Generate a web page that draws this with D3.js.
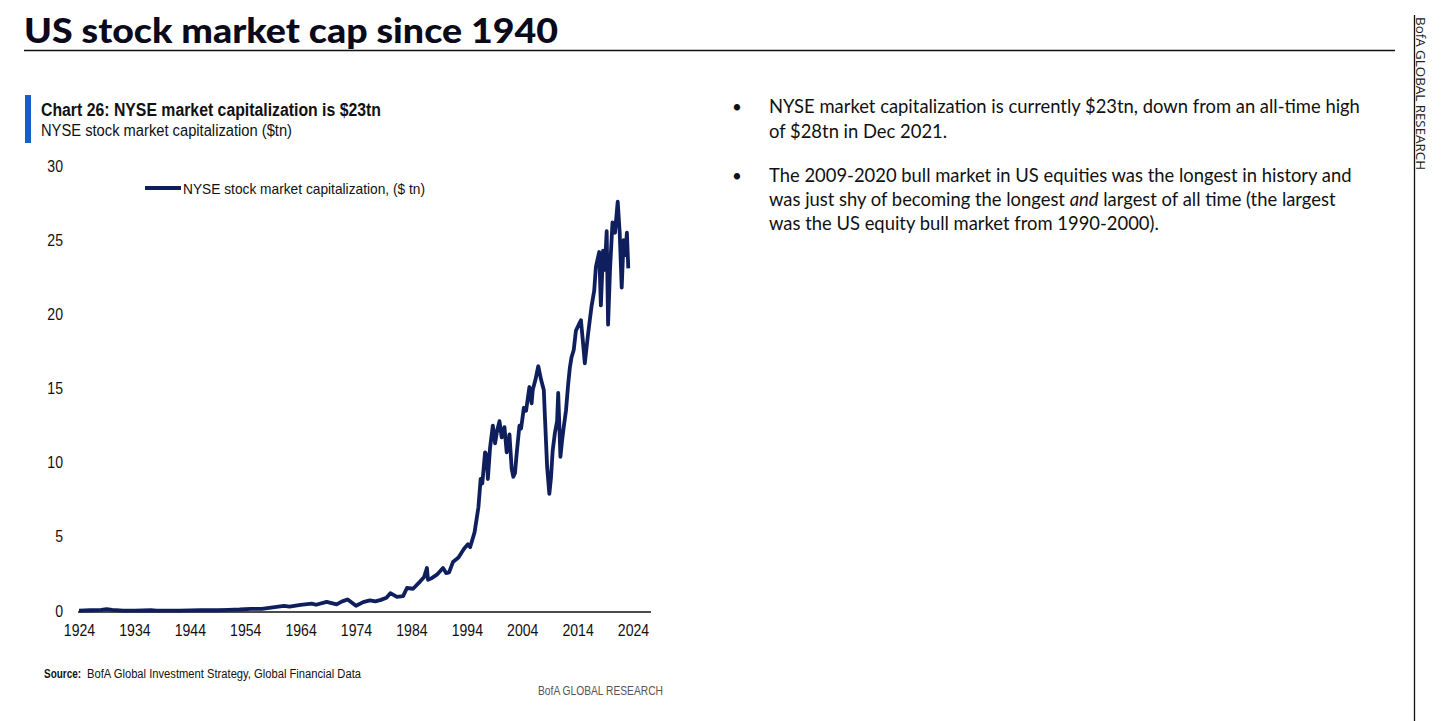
<!DOCTYPE html>
<html><head><meta charset="utf-8">
<script src="https://cdn.jsdelivr.net/npm/d3@7"></script>
<style>
body{margin:0;background:#fff;}
svg{display:block;}
</style></head>
<body>
<svg id="c" width="1456" height="721"></svg>
<script>
// ---- data ----
const years = [1924,1926,1928,1929,1930,1932,1934,1937,1938,1942,1946,1949,1951,1953,1955,1957,1959,1961,1962,1964,1966,1966.8,1968.7,1970.5,1971.5,1972.5,1974,1975.3,1976.5,1977.5,1978.5,1979.5,1980.2,1981.4,1982.5,1983.2,1984.3,1985.6,1986.3,1986.8,1987.0,1987.6,1988.6,1989.7,1990.3,1990.8,1991.5,1992.5,1993.5,1994.2,1994.6,1995.4,1996.1,1996.5,1996.8,1997.3,1997.6,1997.8,1998.2,1998.7,1999.1,1999.5,1999.9,2000.3,2000.8,2001.2,2001.7,2002.1,2002.4,2002.7,2003.0,2003.5,2003.8,2004.3,2004.7,2005.3,2005.7,2005.9,2006.4,2006.9,2007.4,2007.9,2008.1,2008.5,2008.9,2009.2,2009.5,2009.9,2010.3,2010.5,2010.9,2011.2,2011.5,2011.9,2012.3,2012.6,2012.9,2013.3,2013.7,2014.2,2014.6,2015.0,2015.3,2015.9,2016.5,2017.0,2017.3,2017.9,2018.2,2018.6,2018.9,2019.25,2019.5,2019.85,2020.3,2020.75,2021.24,2021.6,2021.96,2022.3,2022.6,2022.9,2023.15];
const marketCap = [0.03,0.05,0.08,0.12,0.08,0.02,0.03,0.05,0.03,0.03,0.06,0.05,0.08,0.1,0.15,0.15,0.25,0.35,0.3,0.42,0.5,0.42,0.62,0.45,0.65,0.78,0.35,0.6,0.72,0.65,0.75,0.9,1.2,0.95,1.0,1.55,1.5,2.0,2.3,2.9,2.1,2.2,2.45,2.9,2.55,2.6,3.3,3.6,4.2,4.5,4.3,5.3,7.0,8.9,8.6,10.7,10.5,8.9,11.0,12.5,11.3,12.2,12.8,11.7,12.4,10.7,11.9,9.6,9.05,9.3,10.6,12.5,12.3,13.7,13.5,15.1,14.0,14.9,15.6,16.5,15.6,14.9,13.1,9.7,7.9,9.0,10.8,12.0,12.8,14.7,10.4,11.5,12.4,13.5,15.3,16.4,17.1,17.6,18.9,19.3,19.6,18.0,16.7,18.7,20.5,21.6,23.2,24.2,20.6,24.3,23.0,25.6,19.3,23.0,26.2,25.5,27.6,25.5,21.8,25.0,24.0,25.5,23.1];
const xTicks = [1924,1934,1944,1954,1964,1974,1984,1994,2004,2014,2024];
const yTicks = [0,5,10,15,20,25,30];
const seriesName = "NYSE stock market capitalization, ($ tn)";

const svg = d3.select("#c");
const narrow = "'Liberation Sans',Arial,sans-serif";
const body = "Lato,'Open Sans',sans-serif";

function fit(sel, len){ return sel.attr("textLength",len).attr("lengthAdjust","spacingAndGlyphs"); }

// Title
fit(svg.append("text").attr("x",24).attr("y",43).attr("font-family",body).attr("font-weight",900)
  .attr("font-size",35).attr("fill","#0a0a1a").text("US stock market cap since 1940"), 534);
svg.append("line").attr("x1",24).attr("x2",1395).attr("y1",50.5).attr("y2",50.5).attr("stroke","#111").attr("stroke-width",1.6);

// Right vertical rule and text
svg.append("line").attr("x1",1414.5).attr("x2",1414.5).attr("y1",15).attr("y2",721).attr("stroke","#111").attr("stroke-width",1.3);
fit(svg.append("text").attr("transform","translate(1416,17) rotate(90)").attr("font-family","'Open Sans',sans-serif")
  .attr("font-size",12).attr("fill","#222").text("BofA GLOBAL RESEARCH"), 153);

// Chart header
svg.append("rect").attr("x",25).attr("y",95).attr("width",6).attr("height",48).attr("fill","#1560c8");
fit(svg.append("text").attr("x",41).attr("y",116).attr("font-family",narrow).attr("font-weight",700)
  .attr("font-size",18).attr("fill","#111").text("Chart 26: NYSE market capitalization is $23tn"), 340);
fit(svg.append("text").attr("x",41).attr("y",136).attr("font-family",narrow)
  .attr("font-size",16).attr("fill","#111").text("NYSE stock market capitalization ($tn)"), 251);

// Scales
const x = d3.scaleLinear().domain([1924,2024]).range([79,633]);
const y = d3.scaleLinear().domain([0,30]).range([611,166]);

// Y axis labels
const ya = svg.append("g").attr("transform","translate(63,0)")
  .call(d3.axisLeft(y).tickValues(yTicks).tickSize(0).tickPadding(0).tickFormat(d3.format("d")));
ya.select(".domain").remove();
ya.selectAll("text").attr("font-family",narrow).attr("font-size",16).attr("fill","#111").attr("transform","scale(0.88,1)");

// X axis
const xa = svg.append("g").attr("transform","translate(0,612)")
  .call(d3.axisBottom(x).tickValues(xTicks).tickSize(0).tickPadding(13).tickFormat(d3.format("d")));
xa.select(".domain").remove();
xa.selectAll("text").attr("font-family",narrow).attr("font-size",16).attr("fill","#111").attr("transform","scale(0.88,1)");
svg.append("line").attr("x1",78).attr("x2",651).attr("y1",y(0)+1).attr("y2",y(0)+1).attr("stroke","#111").attr("stroke-width",1.5);

// Line
const data = years.map((yr,i)=>({yr, v: marketCap[i]}));
svg.append("path").datum(data)
  .attr("d", d3.line().x(d=>x(d.yr)).y(d=>y(d.v)))
  .attr("fill","none").attr("stroke","#0f1f5e").attr("stroke-width",3.8).attr("stroke-linejoin","round");

// Legend
svg.append("line").attr("x1",145).attr("x2",181).attr("y1",188).attr("y2",188).attr("stroke","#0f1f5e").attr("stroke-width",3.8);
fit(svg.append("text").attr("x",183).attr("y",193.5).attr("font-family",narrow).attr("font-size",15).attr("fill","#111").text(seriesName), 242);

// Source
fit(svg.append("text").attr("x",44).attr("y",678).attr("font-family",narrow).attr("font-weight",700).attr("font-size",12).attr("fill","#111").text("Source:"), 37);
fit(svg.append("text").attr("x",87).attr("y",678).attr("font-family",narrow).attr("font-size",12.5).attr("fill","#111").text("BofA Global Investment Strategy, Global Financial Data"), 274);
fit(svg.append("text").attr("x",538).attr("y",695).attr("font-family",narrow)
  .attr("font-size",12.5).attr("fill","#555").text("BofA GLOBAL RESEARCH"), 125);

// Right-side bullets
const bul = [
  {y:[113,138], lines:[["NYSE market capitalization is currently $23tn, down from an all-time high"],["of $28tn in Dec 2021."]]},
  {y:[182,206,230], lines:[["The 2009-2020 bull market in US equities was the longest in history and"],["was just shy of becoming the longest ", {i:"and"}, " largest of all time (the largest"],["was the US equity bull market from 1990-2000)."]]}
];
bul.forEach(b=>{
  svg.append("text").attr("x",732).attr("y",b.y[0]).attr("font-family",body).attr("font-size",17).attr("fill","#111").text("•");
  b.lines.forEach((ln,j)=>{
    const t = svg.append("text").attr("x",769).attr("y",b.y[j]).attr("font-family",body).attr("font-size",18.4).attr("fill","#111");
    ln.forEach(part=>{
      if (typeof part === "string") t.append("tspan").text(part);
      else t.append("tspan").attr("font-style","italic").text(part.i);
    });
  });
});
</script>
</body></html>
